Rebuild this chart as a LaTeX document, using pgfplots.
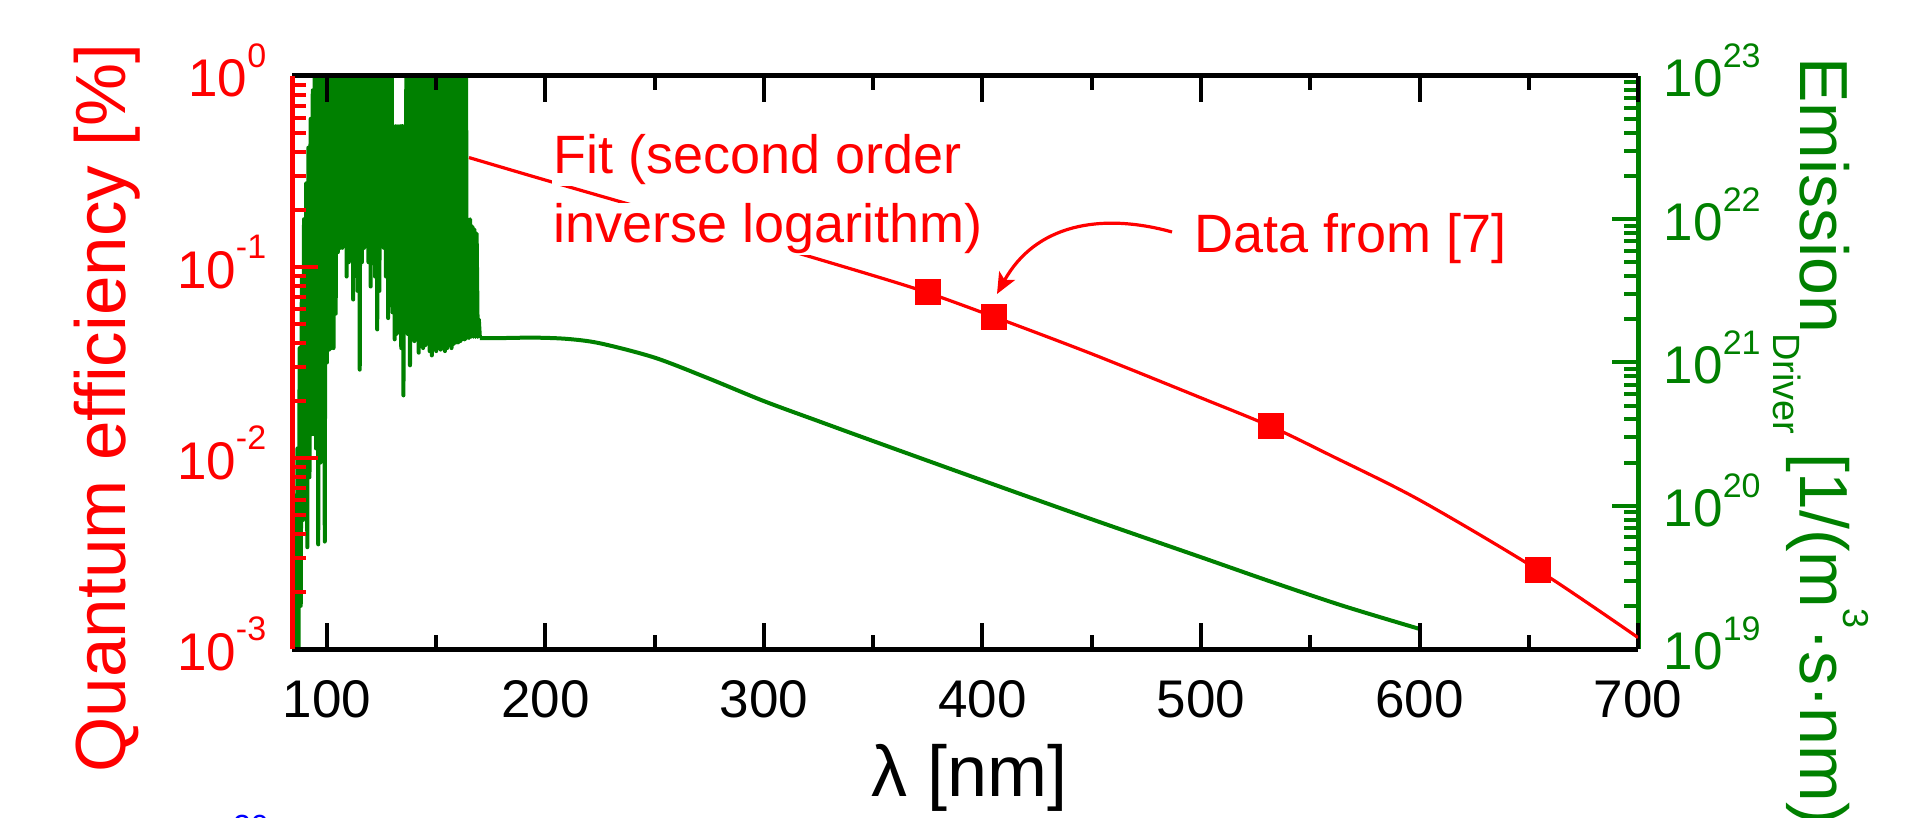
\documentclass[border=0pt]{standalone}
\usepackage{fontspec}
\setmainfont{Liberation Sans}
\usepackage{pgfplots}
\pgfplotsset{compat=1.18}
\usetikzlibrary{arrows.meta}
\definecolor{qred}{RGB}{255,0,0}
\definecolor{qgreen}{RGB}{0,128,0}
\definecolor{qblue}{RGB}{0,0,255}
\newcommand\tsup[1]{\raisebox{0.55em}{\fontsize{17}{17}\selectfont #1}}
\begin{document}
\begin{tikzpicture}
\useasboundingbox (0,0) rectangle (963.5pt,409pt);
% ---------- green (right) axis: driver emission ----------
\begin{axis}[ymode=log,
  at={(146pt,84.5pt)}, anchor=south west, scale only axis,
  width=673pt, height=286.5pt,
  xmin=84, xmax=700,
  tick align=inside,
  major tick length=13pt, minor tick length=7pt,
  ticklabel style={font=\fontsize{26.5}{26.5}\selectfont, inner sep=0pt},
  ymin=1e19, ymax=1e23,
  axis y line*=right, axis x line=none,
  y axis line style={qgreen, line width=2.5pt},
  ytick={1e19,1e20,1e21,1e22,1e23},
  yticklabels={10\tsup{19},10\tsup{20},10\tsup{21},10\tsup{22},10\tsup{23}},
  minor ytick={2e19,3e19,4e19,5e19,6e19,7e19,8e19,9e19,
               2e20,3e20,4e20,5e20,6e20,7e20,8e20,9e20,
               2e21,3e21,4e21,5e21,6e21,7e21,8e21,9e21,
               2e22,3e22,4e22,5e22,6e22,7e22,8e22,9e22},
  y tick style={qgreen, line width=2pt},
  yticklabel style={qgreen, anchor=base west, xshift=12.7pt, yshift=-10.5pt},
]
% spiky part (dense emission lines)
\addplot[qgreen, line width=2pt, line join=round, no marks] coordinates {
(84.8,3e18) (85,3.2e18) (85.5,3.98e19) (86,6.3e18) (86.5,2.51e20) (87,1e19)
(87.5,1.26e21) (88,2e19) (88.5,3.98e21) (89,7.94e19) (89.5,1e22) (90,1e20)
(90.5,1.78e22) (91,5.13e19) (91.5,3.16e22) (92,1.58e20) (92.5,5.01e22) (93,3.16e20)
(93.5,7.94e22) (94,3.16e20) (94.5,1e24) (95,2.51e20) (95.5,1e24) (96,5.37e19)
(96.5,1e24) (97,2e20) (97.5,1e24) (98,2.24e20) (98.5,1e24) (99,5.62e19)
(99.5,1e24) (100,1e21) (100.5,1e24) (101,1.23e21) (101.5,1e24) (102,1.26e21)
(102.5,1e24) (103,1.26e21) (103.5,1e24) (104,2.19e21) (104.5,1e24) (105,5.89e21)
(105.5,1e24) (106,6.31e21) (106.5,1e24) (107,6.31e21) (107.5,1e24) (108,6.92e21)
(108.5,1e24) (109,3.98e21) (109.5,1e24) (110,5.01e21) (110.5,1e24) (111,5.62e21)
(111.5,1e24) (112,2.75e21) (112.5,1e24) (113,5.01e21) (113.5,1e24) (114,3.16e21)
(114.5,1e24) (115,8.91e20) (115.5,1e24) (116,5.01e21) (116.5,1e24) (117,6.31e21)
(117.5,1e24) (118,8.51e21) (118.5,1e24) (119,5.01e21) (119.5,1e24) (120,3.39e21)
(120.5,1e24) (121,5.25e21) (121.5,1e24) (122,3.98e21) (122.5,1e24) (123,1.7e21)
(123.5,1e24) (124,3.16e21) (124.5,1e24) (125,1e22) (125.5,1e24) (126,6.31e21)
(126.5,1e24) (127,3.98e21) (127.5,1e24) (128,2.04e21) (128.5,1e24) (129,2.51e21)
(129.5,1e24) (130,2.24e21) (130.5,4.47e22) (131,1.45e21) (131.5,4.47e22) (132,1.58e21)
(132.5,4.47e22) (133,1.78e21) (133.5,4.47e22) (134,1.26e21) (134.5,4.47e22) (135,5.89e20)
(135.5,4.47e22) (136,2.88e21) (136.5,1e24) (137,1.58e21) (137.5,1e24) (138,9.55e20)
(138.5,1e24) (139,2e21) (139.5,1e24) (140,1.41e21) (140.5,1e24) (141,1.58e21)
(141.5,1e24) (142,1.17e21) (142.5,1e24) (143,1.41e21) (143.5,1e24) (144,1.26e21)
(144.5,1e24) (145,1.32e21) (145.5,1e24) (146,1.41e21) (146.5,1e24) (147,1.2e21)
(147.5,1e24) (148,1.12e21) (148.5,8.71e22) (149,1.26e21) (149.5,1e24) (150,1.2e21)
(150.5,1e24) (151,1.26e21) (151.5,1e24) (152,1.23e21) (152.5,1e24) (153,1.26e21)
(153.5,1e24) (154,1.2e21) (154.5,1e24) (155,1.26e21) (155.5,1e24) (156,1.32e21)
(156.5,1e24) (157,1.26e21) (157.5,1e24) (158,1.35e21) (158.5,1e24) (159,1.38e21)
(159.5,1e24) (160,1.38e21) (160.5,1e24) (161,1.41e21) (161.5,1e24) (162,1.45e21)
(162.5,1e24) (163,1.45e21) (163.5,1e24) (164,1.48e21) (164.5,1e22) (165,1.48e21)
(165.5,1e22) (166,1.51e21) (166.5,8.91e21) (167,1.51e21) (167.5,8.51e21) (168,1.51e21)
(168.5,7.94e21) (169,1.51e21) (169.5,2e21) (170,1.48e21)
};
% smooth continuum part
\addplot[qgreen, line width=2pt, no marks, smooth, tension=0.5] coordinates {
(170,1.48e21) (180,1.48e21) (195,1.49e21) (210,1.46e21)
(225,1.36e21) (250,1.08e21) (275,7.7e20) (300,5.37e20)
(325,3.89e20) (353,2.72e20) (405,1.41e20) (450,8.04e19) (500,4.37e19)
(532,2.95e19) (565,2.0e19) (600,1.38e19)
};
\end{axis}
% ---------- red (left) axis: quantum efficiency ----------
\begin{axis}[ymode=log,
  at={(146pt,84.5pt)}, anchor=south west, scale only axis,
  width=673pt, height=286.5pt,
  xmin=84, xmax=700,
  tick align=inside,
  major tick length=13pt, minor tick length=7pt,
  /pgf/number format/assume math mode=true,
  ticklabel style={font=\fontsize{26.5}{26.5}\selectfont, inner sep=0pt},
  ymin=1e-3, ymax=1,
  axis y line*=left,
  y axis line style={qred, line width=2.5pt},
  x axis line style={black, line width=2.5pt},
  xtick={100,200,300,400,500,600,700},
  minor xtick={150,250,350,450,550,650},
  ytick={1e-3,1e-2,1e-1,1},
  yticklabels={10\tsup{-3},10\tsup{-2},10\tsup{-1},10\tsup{0}},
  minor ytick={2e-3,3e-3,4e-3,5e-3,6e-3,7e-3,8e-3,9e-3,
               2e-2,3e-2,4e-2,5e-2,6e-2,7e-2,8e-2,9e-2,
               2e-1,3e-1,4e-1,5e-1,6e-1,7e-1,8e-1,9e-1},
  y tick style={qred, line width=2pt},
  x tick style={black, line width=2pt},
  yticklabel style={qred, anchor=base east, xshift=-12.7pt, yshift=-10.5pt},
  xticklabel style={black, anchor=base, yshift=-34pt},
]
\addplot[qred, line width=1.6pt, no marks, smooth, tension=0.5] coordinates {
(165,0.3741) (200,0.2851) (250,0.1950) (300,0.1334) (350,0.0902)
(375,0.0733) (405,0.0550) (450,0.0351) (500,0.02065) (532,0.01462)
(560,0.01023) (600,0.006026) (654,0.0026) (700,0.001148)
};
\addplot[only marks, mark=square*, mark size=6.25pt, color=qred] coordinates {
(375,0.0745) (405,0.0548) (532,0.0148) (654,0.00258)
};
\end{axis}
% ---------- labels and annotations ----------
\node[rotate=90, anchor=base, inner sep=0pt, text=qred, font=\fontsize{35.5}{35.5}\selectfont]
  at (62.5pt,205pt) {Quantum efficiency [\%]};
\node[anchor=base, inner sep=0pt, font=\fontsize{36}{36}\selectfont]
  at (485pt,10.5pt) {λ [nm]};
\node[rotate=-90, anchor=base west, inner sep=0pt, text=qgreen, font=\fontsize{34}{34}\selectfont]
  at (900pt,380.5pt) {Emission\raisebox{-13.5pt}{\fontsize{19}{19}\selectfont Driver} [1/(m\raisebox{21.5pt}{\fontsize{18}{18}\selectfont 3}·s·nm)]};
\node[anchor=base west, fill=white, inner sep=0.5pt, text=qred, font=\fontsize{27}{27}\selectfont]
  at (276pt,322.2pt) {Fit (second order};
\node[anchor=base west, fill=white, inner sep=0.5pt, text=qred, font=\fontsize{27}{27}\selectfont]
  at (276pt,287.5pt) {inverse logarithm)};
\node[anchor=base west, inner sep=0pt, text=qred, font=\fontsize{27}{27}\selectfont]
  at (597pt,282.5pt) {Data from [7]};
\draw[qred, line width=1.6pt, -{Stealth[length=10.5pt, width=9pt, inset=2.5pt]}]
  (586pt,293pt) .. controls (550pt,303pt) and (517.5pt,296.5pt) .. (498.5pt,262pt);
\node[anchor=north, inner sep=0pt, text=qblue, font=\fontsize{16}{16}\selectfont]
  at (125.5pt,1.5pt) {20};
\end{tikzpicture}
\end{document}
